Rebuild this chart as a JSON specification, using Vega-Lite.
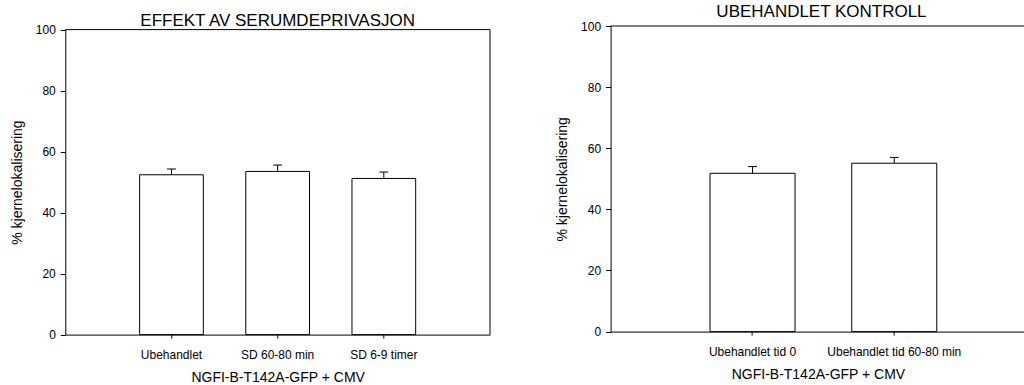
{
  "$schema": "https://vega.github.io/schema/vega-lite/v6.json",
  "padding": {"left": 9.3, "top": 3, "right": 0, "bottom": 0},
  "background": "white",
  "bounds": "flush",
  "spacing": 120.3,
  "config": {
    "font": "Liberation Sans",
    "view": {"stroke": null},
    "axis": {
      "domainColor": "#000", "tickColor": "#000", "labelColor": "#000", "titleColor": "#000",
      "labelFont": "Liberation Sans", "titleFont": "Liberation Sans",
      "labelFontSize": 12, "titleFontSize": 14, "titleFontWeight": "normal",
      "grid": false, "domainWidth": 1, "tickWidth": 1
    },
    "title": {"font": "Liberation Sans", "fontSize": 17, "fontWeight": "normal", "color": "#000", "frame": "group", "baseline": "alphabetic"}
  },
  "datasets": {
    "venstre": [
      {"gruppe": "Ubehandlet", "verdi": 52.4, "ovre": 54.3},
      {"gruppe": "SD 60-80 min", "verdi": 53.5, "ovre": 55.6},
      {"gruppe": "SD 6-9 timer", "verdi": 51.2, "ovre": 53.3}
    ],
    "hoyre": [
      {"gruppe": "Ubehandlet tid 0", "verdi": 51.8, "ovre": 54.0},
      {"gruppe": "Ubehandlet tid 60-80 min", "verdi": 55.1, "ovre": 57.0}
    ],
    "ramme": [{}]
  },
  "hconcat": [
    {
      "width": 424.7,
      "height": 308.6,
      "title": {"text": "EFFEKT AV SERUMDEPRIVASJON", "offset": -6},
      "layer": [
        {
          "data": {"name": "venstre"},
          "mark": {"type": "bar", "fill": "white", "stroke": "black", "strokeWidth": 1},
          "encoding": {
            "x": {"field": "gruppe", "type": "nominal", "sort": null,
              "scale": {"paddingInner": 0.4, "paddingOuter": 0.7},
              "axis": {"labelAngle": 0, "title": "NGFI-B-T142A-GFP + CMV", "tickSize": 3.5, "labelPadding": 11, "titlePadding": 10}},
            "y": {"field": "verdi", "type": "quantitative",
              "scale": {"domain": [0, 100], "range": [308.6, 3.6], "nice": false},
              "axis": {"values": [0, 20, 40, 60, 80, 100], "tickSize": 5, "labelPadding": 5, "title": "% kjernelokalisering", "titlePadding": 11}}
          }
        },
        {
          "data": {"name": "venstre"},
          "mark": {"type": "rule", "color": "black", "strokeWidth": 1},
          "encoding": {
            "x": {"field": "gruppe", "type": "nominal", "sort": null},
            "y": {"field": "verdi", "type": "quantitative"},
            "y2": {"field": "ovre"}
          }
        },
        {
          "data": {"name": "venstre"},
          "mark": {"type": "tick", "orient": "horizontal", "size": 9, "thickness": 1, "color": "black", "opacity": 1},
          "encoding": {
            "x": {"field": "gruppe", "type": "nominal", "sort": null},
            "y": {"field": "ovre", "type": "quantitative"}
          }
        },
        {
          "data": {"name": "ramme"},
          "mark": {"type": "rule", "color": "black", "strokeWidth": 1},
          "encoding": {"y": {"datum": 100}}
        },
        {
          "data": {"name": "ramme"},
          "mark": {"type": "rule", "color": "black", "strokeWidth": 1},
          "encoding": {"x": {"value": "width"}, "y": {"datum": 0}, "y2": {"datum": 100}}
        }
      ]
    },
    {
      "width": 414.7,
      "height": 305.6,
      "title": {"text": "UBEHANDLET KONTROLL", "offset": -1.4, "dx": 3.5},
      "layer": [
        {
          "data": {"name": "hoyre"},
          "mark": {"type": "bar", "fill": "white", "stroke": "black", "strokeWidth": 1},
          "encoding": {
            "x": {"field": "gruppe", "type": "nominal", "sort": null,
              "scale": {"paddingInner": 0.4, "paddingOuter": 0.663, "align": 0.529},
              "axis": {"labelAngle": 0, "title": "NGFI-B-T142A-GFP + CMV", "tickSize": 3.5, "labelPadding": 11, "titlePadding": 10}},
            "y": {"field": "verdi", "type": "quantitative",
              "scale": {"domain": [0, 100], "nice": false},
              "axis": {"values": [0, 20, 40, 60, 80, 100], "tickSize": 5, "labelPadding": 5, "title": "% kjernelokalisering", "titlePadding": 11}}
          }
        },
        {
          "data": {"name": "hoyre"},
          "mark": {"type": "rule", "color": "black", "strokeWidth": 1},
          "encoding": {
            "x": {"field": "gruppe", "type": "nominal", "sort": null},
            "y": {"field": "verdi", "type": "quantitative"},
            "y2": {"field": "ovre"}
          }
        },
        {
          "data": {"name": "hoyre"},
          "mark": {"type": "tick", "orient": "horizontal", "size": 9, "thickness": 1, "color": "black", "opacity": 1},
          "encoding": {
            "x": {"field": "gruppe", "type": "nominal", "sort": null},
            "y": {"field": "ovre", "type": "quantitative"}
          }
        },
        {
          "data": {"name": "ramme"},
          "mark": {"type": "rule", "color": "black", "strokeWidth": 1},
          "encoding": {"y": {"datum": 100}}
        }
      ]
    }
  ]
}
